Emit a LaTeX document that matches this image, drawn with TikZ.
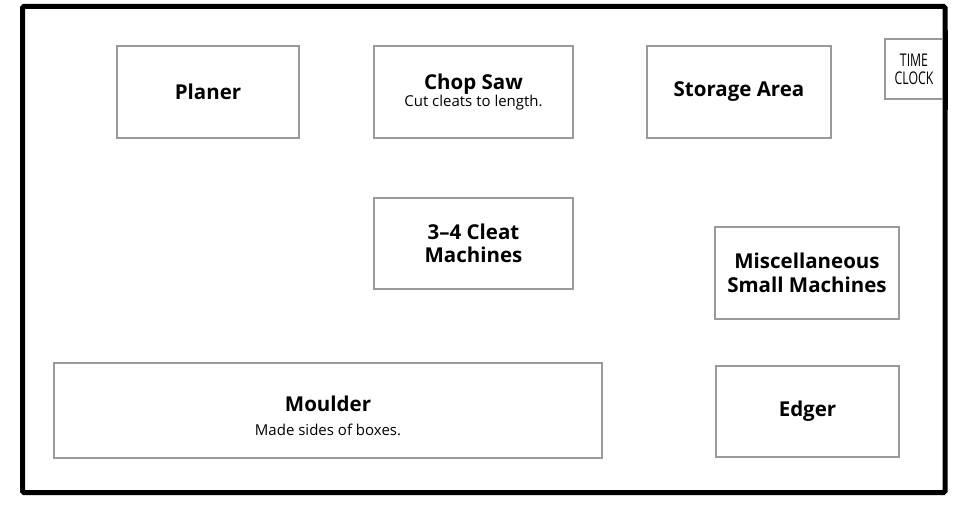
\documentclass[tikz,border=0pt]{standalone}
\usepackage{fontspec}
\setmainfont{Open Sans}
\newfontfamily\narrowfont[FakeStretch=0.7]{Open Sans}
\definecolor{boxgray}{HTML}{9A9A9A}
\newcommand{\headfont}{\fontsize{20.5}{23.5}\selectfont\bfseries}
\tikzset{
  machine/.style={draw=boxgray, line width=1.5pt, fill=white, inner sep=0pt, align=center},
  head/.style={font=\headfont},
  wall/.style={draw=black, line width=5pt, rounded corners=1.5pt},
}
\begin{document}
\begin{tikzpicture}[x=1pt,y=-1pt]
\useasboundingbox (0,0) rectangle (976,532);
\draw[wall] (22.5,6.5) rectangle (945,492.5);
\node[machine, minimum width=182, minimum height=92, head] (planer) at (208,92) {Planer};
\node[machine, minimum width=199, minimum height=92, font=\fontsize{15}{17}\selectfont] (chop) at (473.5,92) {{\headfont Chop Saw}\\Cut cleats to length.};
\node[machine, minimum width=184, minimum height=92, head] (storage) at (739,92) {Storage Area};
\node[machine, minimum width=58, minimum height=60, font=\narrowfont\fontsize{17.5}{18}\selectfont] (clock) at (914,69) {TIME\\CLOCK};
\draw[wall, rounded corners=0pt] (945,30) -- (945,110);
\node[machine, minimum width=199, minimum height=91, head] (cleat) at (473.5,243.5) {3--4 Cleat\\Machines};
\node[machine, minimum width=184, minimum height=92, head] (misc) at (807,273) {Miscellaneous\\Small Machines};
\node[machine, minimum width=548, minimum height=95, font=\fontsize{15}{24}\selectfont] (moulder) at (328,410.5) {{\headfont\rule{0pt}{27pt}Moulder}\\Made sides of boxes.};
\node[machine, minimum width=183, minimum height=91, head] (edger) at (807.5,411.5) {Edger};
\end{tikzpicture}
\end{document}
